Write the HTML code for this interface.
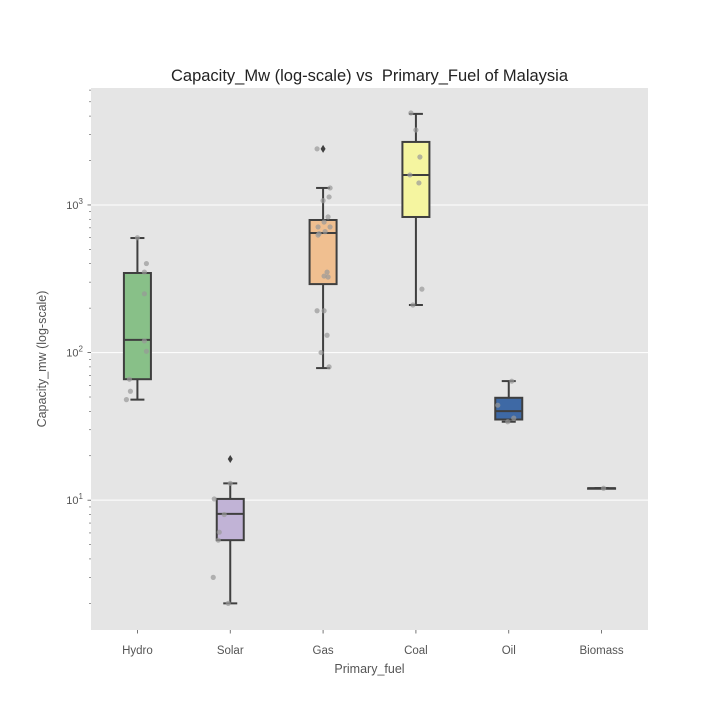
<!DOCTYPE html>
<html><head><meta charset="utf-8"><style>
body{margin:0;background:#fff}svg{display:block;font-family:"Liberation Sans","DejaVu Sans",sans-serif}
text{white-space:pre}
</style></head><body>
<svg id="chart" width="720" height="720"></svg>
<script>
const categories=["Hydro","Solar","Gas","Coal","Oil","Biomass"];
const colors=["#88c088","#c1b3d6","#f0bf90","#f5f5a0","#3e69a5","#d0307f"];
const whiskLow=[48,2.0,78.5,210,34,12.05];
const q1=[66,5.36,291,829,35.2,12.05];
const median=[122,8.07,646,1597,40.1,12.05];
const q3=[346,10.2,791,2673,49.4,12.05];
const whiskHigh=[597,13.0,1304,4140,64.1,12.05];
const outliers=[[],[19],[2400],[],[],[]];
const pointVals=[
 [600,401,351,250,120,102,66,54.7,48],
 [13,10.2,8,6.07,5.36,3.0,2.0],
 [2400,1304,1133,1070,830,766,710,710,625,640,660,351,330,325,192,192,131,100,80],
 [4200,3220,2114,1597,1410,269,210],
 [64,44,34,36],
 [12.05]
];
const pointJit=[
 [0,9,7,7,7,9,-8,-7,-11],
 [0,-16,-6,-11,-12,-17,-2],
 [-6,7,6,0,5,1,7,-5,-5,-4,2,4,1,5,-6,1,4,-2,6],
 [-5,0,4,-6,3,6,-3],
 [3,-11,-1,5],
 [2]
];
const yTicks=[10,100,1000];
const yTickLabels=["10","10","10"];
const yTickExp=["1","2","3"];
const NS="http://www.w3.org/2000/svg";
const svg=document.getElementById("chart");
const L=91,R=648,T=88,B=630;
const yMin=Math.log10(1.32),yMax=Math.log10(6200);
function y(v){return B-(Math.log10(v)-yMin)/(yMax-yMin)*(B-T);}
function x(i){return L+(R-L)*(i+0.5)/categories.length;}
function el(tag,attrs,parent){const e=document.createElementNS(NS,tag);for(const k in attrs)e.setAttribute(k,attrs[k]);(parent||svg).appendChild(e);return e;}
const bg=el("rect",{x:L,y:T,width:R-L,height:B-T,fill:"#e5e5e5"});


for(let d=0;d<4;d++){for(let m=2;m<10;m++){const v=m*Math.pow(10,d);const yy=y(v);if(yy<T||yy>B)continue;
 const t=el("line",{x1:L-2,x2:L,y1:yy,y2:yy,stroke:"#555","stroke-width":0.6});
 
 }}
yTicks.forEach((v,i)=>{const yy=y(v);
 const g=el("line",{x1:L,x2:R,y1:yy,y2:yy,stroke:"#fff","stroke-width":1});
 
 
 const tk=el("line",{x1:L-3.5,x2:L,y1:yy,y2:yy,stroke:"#555","stroke-width":0.8});
 
 
 const t=el("text",{x:L-8,y:yy+4,"text-anchor":"end","font-size":11,fill:"#555"});
 t.textContent=yTickLabels[i];
 const s=el("tspan",{dy:-5,"font-size":8},t);s.textContent=yTickExp[i];
 
 
});
const hw=13.5;
categories.forEach((c,i)=>{const cx=x(i);
 const g=el("g",{});
 
 
 const ln={stroke:"#3f3f3f","stroke-width":2};
 el("line",Object.assign({x1:cx,x2:cx,y1:y(whiskHigh[i]),y2:y(q3[i])},ln),g);
 el("line",Object.assign({x1:cx,x2:cx,y1:y(q1[i]),y2:y(whiskLow[i])},ln),g);
 el("line",Object.assign({x1:cx-7,x2:cx+7,y1:y(whiskHigh[i]),y2:y(whiskHigh[i])},ln),g);
 el("line",Object.assign({x1:cx-7,x2:cx+7,y1:y(whiskLow[i]),y2:y(whiskLow[i])},ln),g);
 const h=Math.max(0.5,y(q1[i])-y(q3[i]));
 el("rect",Object.assign({x:cx-hw,y:y(q3[i]),width:2*hw,height:h,fill:colors[i]},ln),g);
 el("line",Object.assign({x1:cx-hw,x2:cx+hw,y1:y(median[i]),y2:y(median[i])},ln),g);
 outliers[i].forEach(v=>{const o=el("path",{d:`M${cx} ${y(v)-4}L${cx+2.5} ${y(v)}L${cx} ${y(v)+4}L${cx-2.5} ${y(v)}Z`,fill:"#3f3f3f"});
  
  });
 pointVals[i].forEach((v,j)=>{const p=el("circle",{cx:cx+pointJit[i][j],cy:y(v),r:2.6,fill:"#999",opacity:0.7});
  
  });
 const t=el("text",{x:cx,y:654,"text-anchor":"middle","font-size":11.5,fill:"#555"});t.textContent=c;
 
 
 const tk=el("line",{x1:cx,x2:cx,y1:B,y2:B+3.5,stroke:"#555","stroke-width":0.8});
 
 
});
const ti=el("text",{x:(L+R)/2,y:81,"text-anchor":"middle","font-size":16.5,fill:"#222"});ti.textContent="Capacity_Mw (log-scale) vs  Primary_Fuel of Malaysia";


const xl=el("text",{x:(L+R)/2,y:673,"text-anchor":"middle","font-size":12.5,fill:"#555"});xl.textContent="Primary_fuel";


const yl=el("text",{x:0,y:0,"text-anchor":"middle","font-size":12.5,fill:"#555",transform:"translate(46,359) rotate(-90)"});yl.textContent="Capacity_mw (log-scale)";


</script>
</body></html>
